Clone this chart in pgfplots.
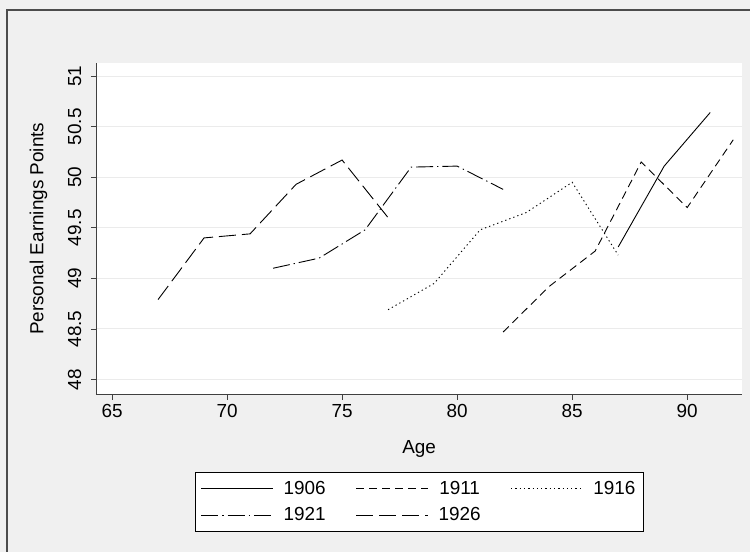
\documentclass[border=0pt]{standalone}
\usepackage{pgfplots}
\pgfplotsset{compat=1.18}
\usepackage{fontspec}
\setmainfont{Liberation Sans}
\begin{document}
\begin{tikzpicture}[x=1bp,y=1bp]
\fill[black!6] (0,0) rectangle (751,552);
\draw[black!70,line width=1.2bp] (7,0) -- (7,542) -- (751,542);
\begin{axis}[at={(96bp,157bp)},anchor=south west,scale only axis,
 width=647bp,height=332bp,
 xmin=64.3,xmax=92.4,ymin=47.85,ymax=51.13,
 axis background/.style={fill=white},
 axis x line*=bottom, axis y line*=left,
 axis line style={black!75,line width=0.8bp},
 xtick={65,70,...,90}, ytick={48,48.5,...,51},
 yticklabels={48,48.5,49,49.5,50,50.5,51},
 tick align=outside, major tick length=5bp,
 tick style={black!75,line width=0.8bp},
 ymajorgrids, grid style={black!8,line width=1bp},
 yticklabel style={rotate=90,anchor=south,yshift=6bp},
 xticklabel style={yshift=-1bp},
 ticklabel style={font=\fontsize{19}{22}\selectfont},
 /pgf/number format/assume math mode=true,
 xlabel={Age}, ylabel={Personal Earnings Points},
 label style={font=\fontsize{19}{22}\selectfont},
 xlabel style={yshift=-16bp}, ylabel style={yshift=14bp},
 legend columns=3,
 legend style={at={(0.5,-0.232)},anchor=north,draw=black,line width=0.7bp,
   font=\fontsize{19}{22}\selectfont,
   /tikz/every odd column/.append style={column sep=8bp},
   /tikz/every even column/.append style={column sep=28bp},
   inner xsep=6bp,inner ysep=7bp,row sep=8bp},
 legend image code/.code={\draw[#1,line width=0.9bp] (0bp,0bp) -- (72bp,0bp);},
 no marks,
 every axis plot/.append style={black,line width=0.9bp},
]
\addplot[solid] coordinates {(87,49.31)(89,50.11)(91,50.64)};
\addplot[dash pattern=on 8bp off 5bp] coordinates {(82,48.47)(84,48.92)(86,49.27)(88,50.15)(90,49.70)(92,50.37)};
\addplot[dash pattern=on 1.3bp off 3bp] coordinates {(77,48.69)(79,48.95)(81,49.48)(83,49.65)(85,49.95)(87,49.23)};
\addplot[dash pattern=on 17bp off 4bp on 1.3bp off 4bp] coordinates {(72,49.10)(74,49.20)(76,49.48)(78,50.10)(80,50.11)(82,49.88)};
\addplot[dash pattern=on 17bp off 6bp] coordinates {(67,48.79)(69,49.40)(71,49.44)(73,49.93)(75,50.17)(77,49.60)};
\legend{1906,1911,1916,1921,1926}
\end{axis}
\end{tikzpicture}
\end{document}
